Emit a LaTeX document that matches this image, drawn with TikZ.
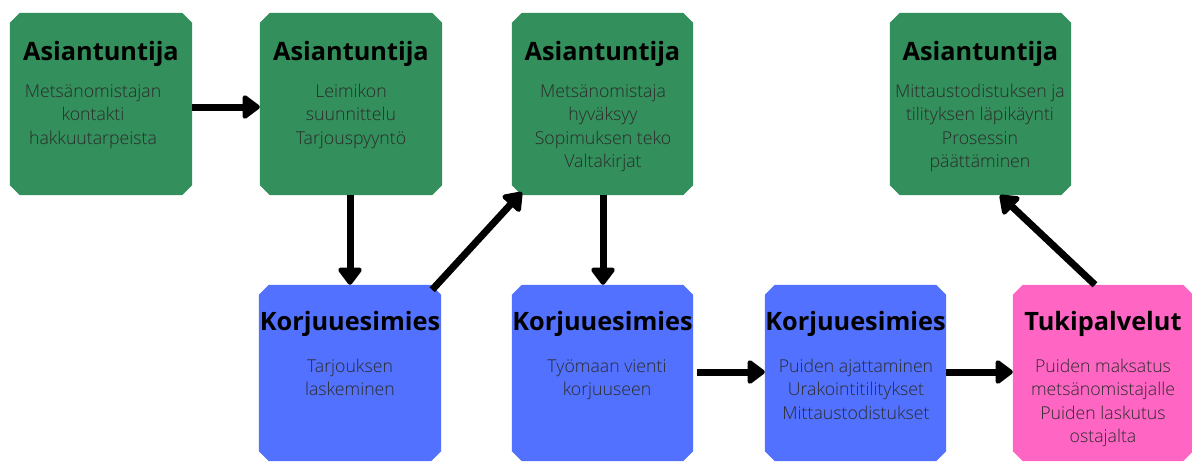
\documentclass[tikz,border=0pt]{standalone}
\usepackage{fontspec}
\setmainfont{Open Sans}
\newfontfamily\lightfont{Open Sans Light}
\usetikzlibrary{arrows.meta}
\definecolor{cgreen}{HTML}{338F5B}
\definecolor{cblue}{HTML}{5271FF}
\definecolor{cpink}{HTML}{FF66C4}
\definecolor{ctext}{HTML}{2B2B2B}
\tikzset{
  boxnode/.style={draw=none,fill=none,inner sep=0pt,minimum width=#1},
  ttl/.style={anchor=base,font=\fontsize{25.3}{28}\selectfont\bfseries,text=black,inner sep=0pt},
  bdy/.style={anchor=base,align=center,font=\lightfont\fontsize{17.7}{23.5}\selectfont,text=ctext,inner sep=0pt},
  arr/.style={line width=7pt,-{Triangle[length=19pt,width=27pt,round]}}
}
\newcommand\chamferfill[2]{%
  \fill[#2] ([xshift=10pt]#1.north west) -- ([xshift=-10pt]#1.north east) -- ([yshift=-10pt]#1.north east)
    -- ([yshift=10pt]#1.south east) -- ([xshift=-10pt]#1.south east) -- ([xshift=10pt]#1.south west)
    -- ([yshift=10pt]#1.south west) -- ([yshift=-10pt]#1.north west) -- cycle;}
\begin{document}
\begin{tikzpicture}[x=1pt,y=-1pt]
\useasboundingbox (0,0) rectangle (1192,461);
% box nodes (pixel rectangles)
\node[boxnode=182pt,minimum height=182pt] (a1) at (101,104) {};
\node[boxnode=182pt,minimum height=182pt] (a2) at (351,104) {};
\node[boxnode=181pt,minimum height=182pt] (a3) at (602.5,104) {};
\node[boxnode=181pt,minimum height=182pt] (a4) at (980.5,104) {};
\node[boxnode=182pt,minimum height=176pt] (k1) at (350,373) {};
\node[boxnode=181pt,minimum height=176pt] (k2) at (602.5,373) {};
\node[boxnode=181pt,minimum height=176pt] (k3) at (855.5,373) {};
\node[boxnode=180pt,minimum height=176pt] (t1) at (1103,373) {};
\chamferfill{a1}{cgreen}
\chamferfill{a2}{cgreen}
\chamferfill{a3}{cgreen}
\chamferfill{a4}{cgreen}
\chamferfill{k1}{cblue}
\chamferfill{k2}{cblue}
\chamferfill{k3}{cblue}
\chamferfill{t1}{cpink}
% titles
\node[ttl] (a1t) at (101,60) {Asiantuntija};
\node[ttl] (a2t) at (351,60) {Asiantuntija};
\node[ttl] (a3t) at (602.5,60) {Asiantuntija};
\node[ttl] (a4t) at (980.5,60) {Asiantuntija};
\node[ttl] (k1t) at (350,330) {Korjuuesimies};
\node[ttl] (k2t) at (602.5,330) {Korjuuesimies};
\node[ttl] (k3t) at (855.5,330) {Korjuuesimies};
\node[ttl] (t1t) at (1103,330) {Tukipalvelut};
% bodies (anchor = baseline of last line)
\node[bdy] (a1b) at (93,144) {Metsänomistajan\\kontakti\\hakkuutarpeista};
\node[bdy] (a2b) at (351,144) {Leimikon\\suunnittelu\\Tarjouspyyntö};
\node[bdy] (a3b) at (603,167.5) {Metsänomistaja\\hyväksyy\\Sopimuksen teko\\Valtakirjat};
\node[bdy] (a4b) at (980,167.5) {Mittaustodistuksen ja\\tilityksen läpikäynti\\Prosessin\\päättäminen};
\node[bdy] (k1b) at (350,395.5) {Tarjouksen\\laskeminen};
\node[bdy] (k2b) at (607,395.5) {Työmaan vienti\\korjuuseen};
\node[bdy] (k3b) at (856,419) {Puiden ajattaminen\\Urakointitilitykset\\Mittaustodistukset};
\node[bdy] (t1b) at (1103,442.5) {Puiden maksatus\\metsänomistajalle\\Puiden laskutus\\ostajalta};
% connectors
\draw[arr] ([yshift=-3pt]a1.east) -- ([yshift=-3pt]a2.west);
\draw[arr] ([xshift=-1pt]a2.south) -- ([xshift=0pt]k1.north);
\draw[arr] ([xshift=-9pt,yshift=-5pt]k1.north east) -- ([xshift=10pt,yshift=3pt]a3.south west);
\draw[arr] ([xshift=0.5pt]a3.south) -- ([xshift=0.5pt]k2.north);
\coordinate (k2out) at ([xshift=4pt,yshift=1pt]k2.east);
\draw[arr] (k2out) -- ([yshift=1pt]k3.west);
\draw[arr] ([yshift=1pt]k3.east) -- ([yshift=1pt]t1.west);
\draw[arr] ([xshift=-8pt]t1.north) -- ([xshift=19.5pt]a4.south);
\end{tikzpicture}
\end{document}
